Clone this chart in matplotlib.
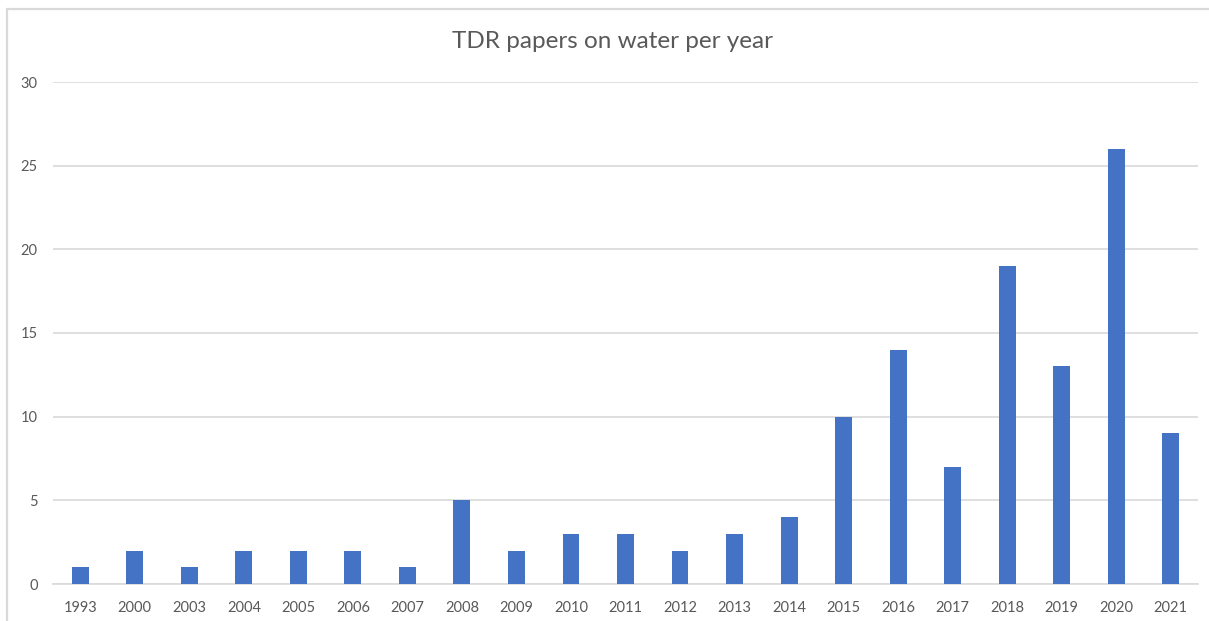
import matplotlib
matplotlib.use("Agg")
import matplotlib.pyplot as plt
from matplotlib.patches import Rectangle
import numpy as np

years = ["1993", "2000", "2003", "2004", "2005", "2006", "2007", "2008", "2009", "2010",
         "2011", "2012", "2013", "2014", "2015", "2016", "2017", "2018", "2019", "2020", "2021"]
papers = [1, 2, 1, 2, 2, 2, 1, 5, 2, 3, 3, 2, 3, 4, 10, 14, 7, 19, 13, 26, 9]
yticks = [0, 5, 10, 15, 20, 25, 30]

plt.rcParams["font.family"] = ["Lato", "DejaVu Sans"]
W, H = 1209, 621
fig = plt.figure(figsize=(W / 100, H / 100), dpi=100)
fig.patch.set_facecolor("white")

# chart frame (light grey, cut off at right and bottom)
fig.patches.append(Rectangle((7 / W, -0.05), 1.1, 1 - 9 / H + 0.05, transform=fig.transFigure,
                             fill=False, edgecolor="#d9d9d9", linewidth=1.6))

ax = fig.add_axes([53 / W, 1 - 584 / H, (1198 - 53) / W, (584 - 82) / H])
x = np.arange(len(years))
ax.bar(x, papers, width=0.31, color="#4472C4", zorder=3)
ax.set_xlim(-0.5, len(years) - 0.5)
ax.set_ylim(0, 30)
ax.set_yticks(yticks)
ax.set_xticks(x)
ax.set_xticklabels(years)
ax.grid(axis="y", color="#d9d9d9", linewidth=1.2, zorder=0)
for s in ["top", "right", "left"]:
    ax.spines[s].set_visible(False)
ax.spines["bottom"].set_color("#d9d9d9")
ax.spines["bottom"].set_linewidth(1.2)
ax.tick_params(axis="both", length=0, labelsize=10.5, colors="#595959")
ax.tick_params(axis="y", pad=11)
ax.tick_params(axis="x", pad=12)

fig.text(612 / W, 1 - 42 / H, "TDR papers on water per year", ha="center", va="center",
         fontsize=17.5, color="#595959")

fig.savefig("out.png", dpi=100)
